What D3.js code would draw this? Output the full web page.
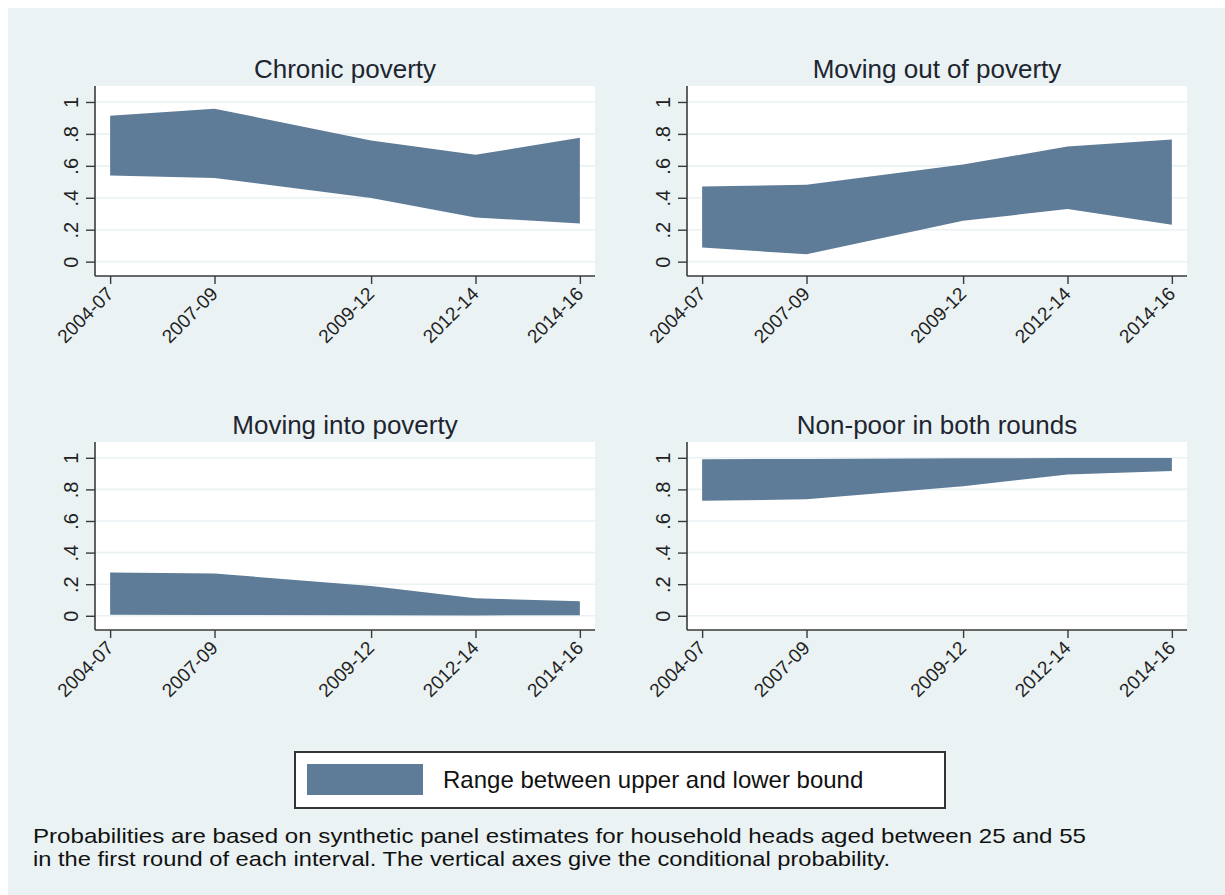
<!DOCTYPE html>
<html>
<head>
<meta charset="utf-8">
<script src="https://cdn.jsdelivr.net/npm/d3@7"></script>
<style>
  html, body { margin: 0; padding: 0; background: #ffffff; }
  svg { display: block; }
  text { font-family: "Liberation Sans", Arial, sans-serif; }
</style>
</head>
<body>
<svg id="chart" width="1225" height="895"></svg>
<script>
// Survey intervals and the end year used to place each interval on the x axis
const periods = ["2004-07", "2007-09", "2009-12", "2012-14", "2014-16"];
const periodEndYear = [2007, 2009, 2012, 2014, 2016];
const yTicks = [0, 0.2, 0.4, 0.6, 0.8, 1];

const panelTitles = ["Chronic poverty", "Moving out of poverty", "Moving into poverty", "Non-poor in both rounds"];

// Lower and upper bounds of each conditional probability
const chronicLower = [0.539, 0.524, 0.399, 0.277, 0.239];
const chronicUpper = [0.914, 0.958, 0.759, 0.669, 0.776];
const outLower = [0.088, 0.046, 0.256, 0.329, 0.231];
const outUpper = [0.470, 0.482, 0.608, 0.721, 0.765];
const intoLower = [0.006, 0.005, 0.003, 0.002, 0.004];
const intoUpper = [0.274, 0.268, 0.188, 0.111, 0.092];
const nonpoorLower = [0.728, 0.737, 0.820, 0.895, 0.916];
const nonpoorUpper = [0.991, 0.993, 0.997, 0.998, 0.998];

const legendLabel = "Range between upper and lower bound";
const noteLines = [
  "Probabilities are based on synthetic panel estimates for household heads aged between 25 and 55",
  "in the first round of each interval. The vertical axes give the conditional probability."
];
const noteWidths = [1053, 857];

const bounds = [
  [chronicLower, chronicUpper],
  [outLower, outUpper],
  [intoLower, intoUpper],
  [nonpoorLower, nonpoorUpper]
];

const fillColor = "#5e7c98";
const bgColor = "#eaf2f3";
const axisColor = "#3a3a3a";

const svg = d3.select("#chart");

// graph region background
svg.append("rect").attr("x", 8).attr("y", 8).attr("width", 1217).attr("height", 887).attr("fill", bgColor);

// plot region placement: two columns, two rows
const colX = [95, 687];
const plotW = 500;
const rowY = [86, 442];
const rowH = [190, 188];

const yFmt = d => d === 0 ? "0" : d === 1 ? "1" : String(d).replace(/^0\./, ".");

panelTitles.forEach((title, i) => {
  const left = colX[i % 2];
  const top = rowY[Math.floor(i / 2)];
  const h = rowH[Math.floor(i / 2)];
  const [lower, upper] = bounds[i];

  const x = d3.scaleLinear().domain([2006.71, 2016.29]).range([left, left + plotW]);
  const y = d3.scaleLinear().domain([-0.09, 1.1]).range([top + h, top]);

  const g = svg.append("g");

  // white plot region
  g.append("rect").attr("x", left).attr("y", top).attr("width", plotW).attr("height", h).attr("fill", "#ffffff");

  // horizontal gridlines
  g.append("g").selectAll("line").data(yTicks).join("line")
    .attr("x1", left).attr("x2", left + plotW)
    .attr("y1", d => y(d)).attr("y2", d => y(d))
    .attr("stroke", bgColor).attr("stroke-width", 1.6);

  // shaded range between bounds
  const rows = periodEndYear.map((yr, k) => ({ yr, lo: lower[k], hi: upper[k] }));
  const area = d3.area().x(d => x(d.yr)).y0(d => y(d.lo)).y1(d => y(d.hi));
  g.append("path").datum(rows).attr("d", area).attr("fill", fillColor);

  // y axis
  const yAxis = g.append("g").attr("transform", `translate(${left},0)`)
    .call(d3.axisLeft(y).tickValues(yTicks).tickSize(9).tickFormat(yFmt));
  yAxis.select(".domain").attr("d", `M0,${top}V${top + h}`);
  yAxis.selectAll("line").attr("stroke", axisColor).attr("stroke-width", 1.4);
  yAxis.select(".domain").attr("stroke", axisColor).attr("stroke-width", 1.6);
  yAxis.selectAll("text")
    .attr("x", 0).attr("y", -17).attr("dy", 0)
    .attr("transform", "rotate(-90)")
    .attr("text-anchor", "middle")
    .attr("font-size", 20).attr("fill", "#222");

  // x axis
  const xAxis = g.append("g").attr("transform", `translate(0,${top + h})`)
    .call(d3.axisBottom(x).tickValues(periodEndYear).tickSize(8)
      .tickFormat((d, k) => periods[k]));
  xAxis.select(".domain").attr("d", `M${left},0H${left + plotW}`);
  xAxis.selectAll("line").attr("stroke", axisColor).attr("stroke-width", 1.4);
  xAxis.select(".domain").attr("stroke", axisColor).attr("stroke-width", 1.6);
  xAxis.selectAll("text")
    .attr("x", 0).attr("y", 0).attr("dy", 0)
    .attr("transform", "translate(4,19) rotate(-45)")
    .attr("text-anchor", "end")
    .attr("font-size", 19).attr("fill", "#222");

  // panel title
  g.append("text").attr("x", left + plotW / 2).attr("y", top - 8)
    .attr("text-anchor", "middle").attr("font-size", 26).attr("fill", "#1e2530")
    .text(title);
});

// legend
const lg = svg.append("g");
lg.append("rect").attr("x", 295).attr("y", 752).attr("width", 650).attr("height", 56)
  .attr("fill", "#ffffff").attr("stroke", "#333").attr("stroke-width", 2);
lg.append("rect").attr("x", 307).attr("y", 764).attr("width", 116).attr("height", 31).attr("fill", fillColor);
lg.append("text").attr("x", 443).attr("y", 788).attr("font-size", 24).attr("fill", "#111").text(legendLabel);

// note under the graph
svg.append("g").selectAll("text").data(noteLines).join("text")
  .attr("x", 33).attr("y", (d, k) => 843 + k * 23)
  .attr("font-size", 21).attr("fill", "#111")
  .attr("textLength", (d, k) => noteWidths[k])
  .attr("lengthAdjust", "spacingAndGlyphs")
  .text(d => d);
</script>
</body>
</html>
